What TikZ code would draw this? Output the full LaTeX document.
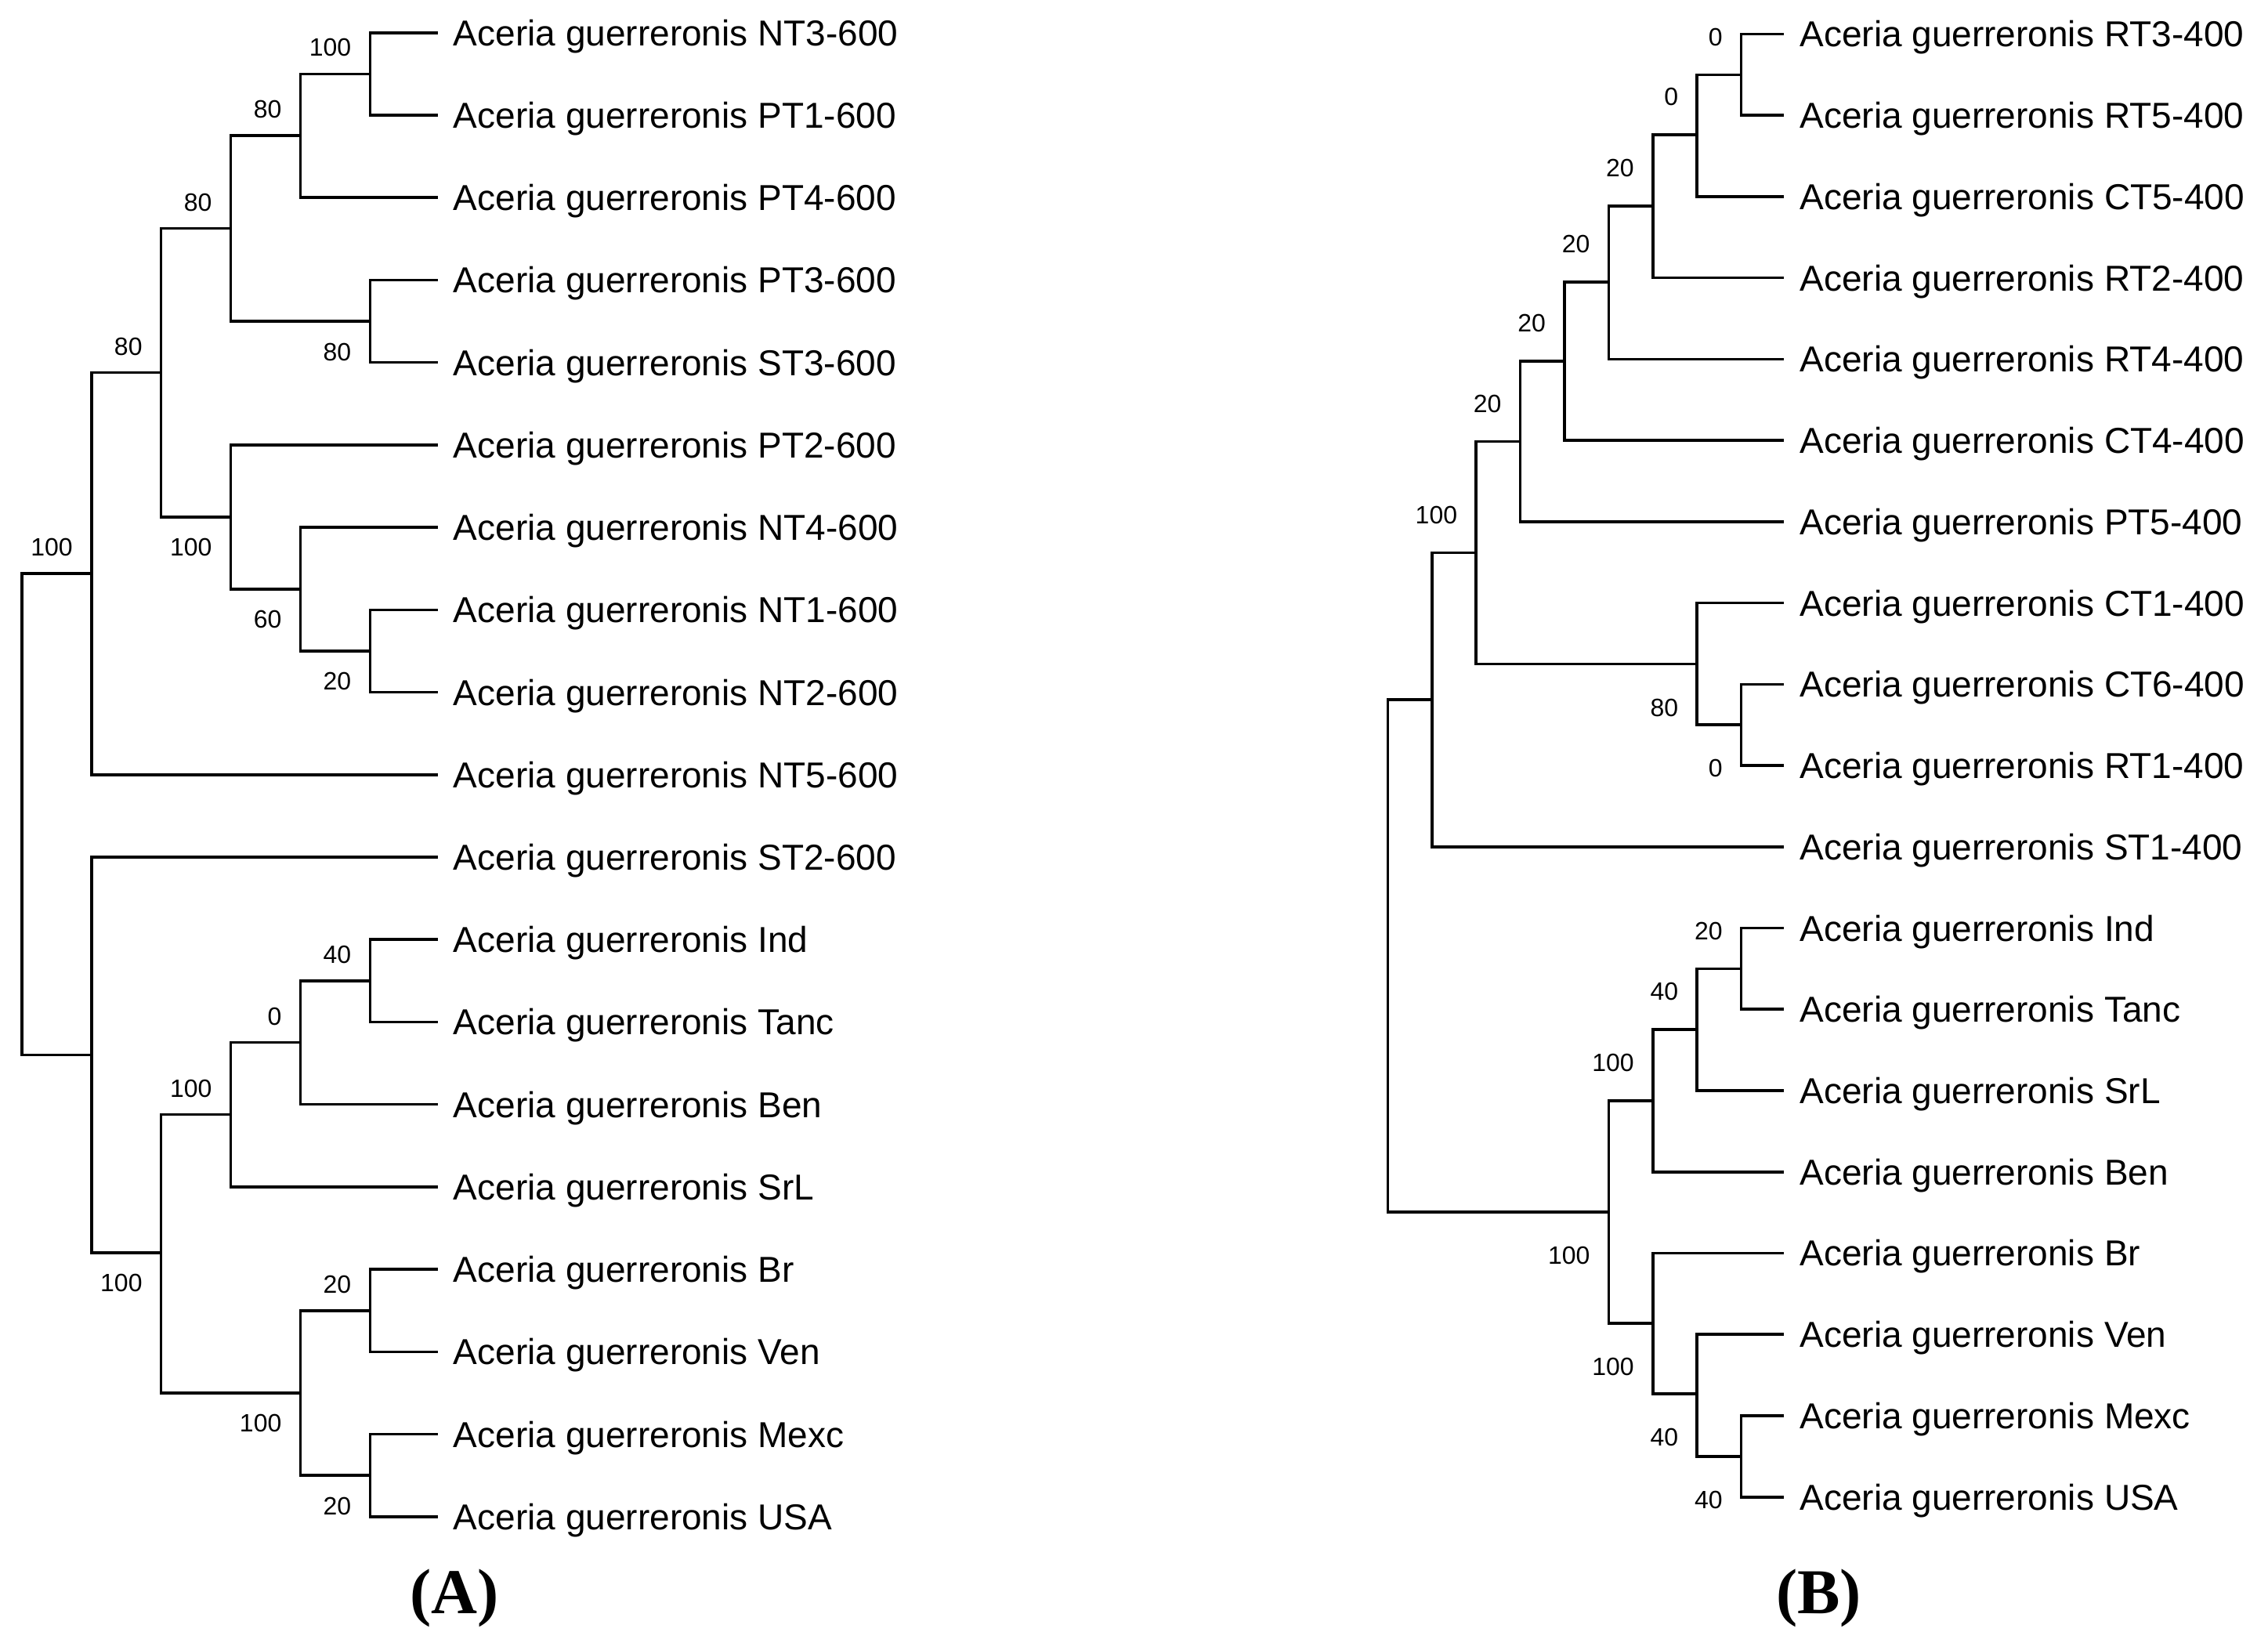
\documentclass[tikz,border=0pt]{standalone}
\usepackage{fontspec}
\setmainfont{Liberation Serif}
\setsansfont{Liberation Sans}
\begin{document}
\begin{tikzpicture}[
        x=0.01cm, y=-0.01cm,
        line width=0.55pt,
        font=\sffamily
    ]
    \tikzset{
        leafnode/.style = {anchor=west, inner xsep=0.1cm, inner ysep=0pt, text height=5.05pt, text depth=0pt, font={\sffamily\fontsize{7.05}{8}\selectfont}},
        bootnum/.style = {inner sep=0pt, anchor=east, xshift=-0.12cm, font={\sffamily\fontsize{4.9}{5}\selectfont}},
        labelstyleU/.style = {bootnum, yshift=0.18cm},
        labelstyleD/.style = {bootnum, yshift=-0.21cm},
        panelnode/.style = {inner sep=0pt, font={\rmfamily\bfseries\fontsize{12.5}{14}\selectfont}}
    }
    \useasboundingbox (0,0) rectangle (1560,1134.8);

    % (A) leaves
    \node[leafnode] (aNT3) at (301,22.5) {Aceria guerreronis NT3-600};
    \node[leafnode] (aPT1) at (301,79.2) {Aceria guerreronis PT1-600};
    \node[leafnode] (aPT4) at (301,135.9) {Aceria guerreronis PT4-600};
    \node[leafnode] (aPT3) at (301,192.6) {Aceria guerreronis PT3-600};
    \node[leafnode] (aST3) at (301,249.3) {Aceria guerreronis ST3-600};
    \node[leafnode] (aPT2) at (301,306.0) {Aceria guerreronis PT2-600};
    \node[leafnode] (aNT4) at (301,362.7) {Aceria guerreronis NT4-600};
    \node[leafnode] (aNT1) at (301,419.4) {Aceria guerreronis NT1-600};
    \node[leafnode] (aNT2) at (301,476.1) {Aceria guerreronis NT2-600};
    \node[leafnode] (aNT5) at (301,532.8) {Aceria guerreronis NT5-600};
    \node[leafnode] (aST2) at (301,589.5) {Aceria guerreronis ST2-600};
    \node[leafnode] (aInd) at (301,646.2) {Aceria guerreronis Ind};
    \node[leafnode] (aTanc) at (301,702.9) {Aceria guerreronis Tanc};
    \node[leafnode] (aBen) at (301,759.6) {Aceria guerreronis Ben};
    \node[leafnode] (aSrL) at (301,816.3) {Aceria guerreronis SrL};
    \node[leafnode] (aBr) at (301,873.0) {Aceria guerreronis Br};
    \node[leafnode] (aVen) at (301,929.7) {Aceria guerreronis Ven};
    \node[leafnode] (aMexc) at (301,986.4) {Aceria guerreronis Mexc};
    \node[leafnode] (aUSA) at (301,1043.1) {Aceria guerreronis USA};

    % (A) inner nodes
    \coordinate (a0) at (15,559.9);
    \coordinate (a1) at (62.9,394.4);
    \coordinate (a11) at (110.8,256.3);
    \coordinate (a111) at (158.7,157.1);
    \coordinate (a1111) at (206.6,93.3);
    \coordinate (a11111) at (254.5,50.85);
    \coordinate (a1112) at (254.5,220.95);
    \coordinate (a112) at (158.7,355.5);
    \coordinate (a1121) at (206.6,405.1);
    \coordinate (a11211) at (254.5,447.75);
    \coordinate (a2) at (62.9,725.5);
    \coordinate (a21) at (110.8,861.5);
    \coordinate (a211) at (158.7,766.6);
    \coordinate (a2111) at (206.6,716.9);
    \coordinate (a21111) at (254.5,674.55);
    \coordinate (a212) at (206.6,958.05);
    \coordinate (a2121) at (254.5,901.35);
    \coordinate (a2122) at (254.5,1014.75);

    \draw (a0) |- (a1) (a0) |- (a2);
    \draw (a1) |- (a11) (a1) |- (aNT5.west);
    \draw (a11) |- (a111) (a11) |- (a112);
    \draw (a111) |- (a1111) (a111) |- (a1112);
    \draw (a1111) |- (a11111) (a1111) |- (aPT4.west);
    \draw (a11111) |- (aNT3.west) (a11111) |- (aPT1.west);
    \draw (a1112) |- (aPT3.west) (a1112) |- (aST3.west);
    \draw (a112) |- (aPT2.west) (a112) |- (a1121);
    \draw (a1121) |- (aNT4.west) (a1121) |- (a11211);
    \draw (a11211) |- (aNT1.west) (a11211) |- (aNT2.west);
    \draw (a2) |- (aST2.west) (a2) |- (a21);
    \draw (a21) |- (a211) (a21) |- (a212);
    \draw (a211) |- (a2111) (a211) |- (aSrL.west);
    \draw (a2111) |- (a21111) (a2111) |- (aBen.west);
    \draw (a21111) |- (aInd.west) (a21111) |- (aTanc.west);
    \draw (a212) |- (a2121) (a212) |- (a2122);
    \draw (a2121) |- (aBr.west) (a2121) |- (aVen.west);
    \draw (a2122) |- (aMexc.west) (a2122) |- (aUSA.west);

    % (A) bootstrap values
    \node[labelstyleU] (la1) at (a1) {100};
    \node[labelstyleU] (la11) at (a11) {80};
    \node[labelstyleU] (la111) at (a111) {80};
    \node[labelstyleU] (la1111) at (a1111) {80};
    \node[labelstyleU] (la11111) at (a11111) {100};
    \node[labelstyleD] (la1112) at (a1112) {80};
    \node[labelstyleD] (la112) at (a112) {100};
    \node[labelstyleD] (la1121) at (a1121) {60};
    \node[labelstyleD] (la11211) at (a11211) {20};
    \node[labelstyleD] (la21) at (a21) {100};
    \node[labelstyleU] (la211) at (a211) {100};
    \node[labelstyleU] (la2111) at (a2111) {0};
    \node[labelstyleU] (la21111) at (a21111) {40};
    \node[labelstyleD] (la212) at (a212) {100};
    \node[labelstyleU] (la2121) at (a2121) {20};
    \node[labelstyleD] (la2122) at (a2122) {20};

    \node[panelnode] (capA) at (312.5,1099.3) {(A)};

    % (B)
    \begin{scope}[
            labelstyleU/.style = {bootnum, yshift=0.26cm},
            labelstyleD/.style = {bootnum, yshift=-0.30cm}
        ]
    \node[leafnode] (bRT3) at (1227,23.4) {Aceria guerreronis RT3-400};
    \node[leafnode] (bRT5) at (1227,79.3) {Aceria guerreronis RT5-400};
    \node[leafnode] (bCT5) at (1227,135.2) {Aceria guerreronis CT5-400};
    \node[leafnode] (bRT2) at (1227,191.1) {Aceria guerreronis RT2-400};
    \node[leafnode] (bRT4) at (1227,247.0) {Aceria guerreronis RT4-400};
    \node[leafnode] (bCT4) at (1227,302.9) {Aceria guerreronis CT4-400};
    \node[leafnode] (bPT5) at (1227,358.8) {Aceria guerreronis PT5-400};
    \node[leafnode] (bCT1) at (1227,414.7) {Aceria guerreronis CT1-400};
    \node[leafnode] (bCT6) at (1227,470.6) {Aceria guerreronis CT6-400};
    \node[leafnode] (bRT1) at (1227,526.5) {Aceria guerreronis RT1-400};
    \node[leafnode] (bST1) at (1227,582.4) {Aceria guerreronis ST1-400};
    \node[leafnode] (bInd) at (1227,638.3) {Aceria guerreronis Ind};
    \node[leafnode] (bTanc) at (1227,694.2) {Aceria guerreronis Tanc};
    \node[leafnode] (bSrL) at (1227,750.1) {Aceria guerreronis SrL};
    \node[leafnode] (bBen) at (1227,806.0) {Aceria guerreronis Ben};
    \node[leafnode] (bBr) at (1227,861.9) {Aceria guerreronis Br};
    \node[leafnode] (bVen) at (1227,917.8) {Aceria guerreronis Ven};
    \node[leafnode] (bMexc) at (1227,973.7) {Aceria guerreronis Mexc};
    \node[leafnode] (bUSA) at (1227,1029.6) {Aceria guerreronis USA};

    \coordinate (b0) at (954.5,657.4);
    \coordinate (b1) at (984.9,481.2);
    \coordinate (b11) at (1015.3,380.1);
    \coordinate (b111) at (1045.7,303.65);
    \coordinate (b1111) at (1076.1,248.5);
    \coordinate (b11111) at (1106.5,194.1);
    \coordinate (b111111) at (1136.9,141.7);
    \coordinate (b1111111) at (1167.3,92.8);
    \coordinate (b11111111) at (1197.7,51.35);
    \coordinate (b112) at (1167.3,456.6);
    \coordinate (b1121) at (1197.7,498.55);
    \coordinate (b2) at (1106.5,833.6);
    \coordinate (b21) at (1136.9,757.0);
    \coordinate (b211) at (1167.3,708.0);
    \coordinate (b2111) at (1197.7,666.25);
    \coordinate (b22) at (1136.9,910.2);
    \coordinate (b221) at (1167.3,958.5);
    \coordinate (b2211) at (1197.7,1001.65);

    \draw (b0) |- (b1) (b0) |- (b2);
    \draw (b1) |- (b11) (b1) |- (bST1.west);
    \draw (b11) |- (b111) (b11) |- (b112);
    \draw (b111) |- (b1111) (b111) |- (bPT5.west);
    \draw (b1111) |- (b11111) (b1111) |- (bCT4.west);
    \draw (b11111) |- (b111111) (b11111) |- (bRT4.west);
    \draw (b111111) |- (b1111111) (b111111) |- (bRT2.west);
    \draw (b1111111) |- (b11111111) (b1111111) |- (bCT5.west);
    \draw (b11111111) |- (bRT3.west) (b11111111) |- (bRT5.west);
    \draw (b112) |- (bCT1.west) (b112) |- (b1121);
    \draw (b1121) |- (bCT6.west) (b1121) |- (bRT1.west);
    \draw (b2) |- (b21) (b2) |- (b22);
    \draw (b21) |- (b211) (b21) |- (bBen.west);
    \draw (b211) |- (b2111) (b211) |- (bSrL.west);
    \draw (b2111) |- (bInd.west) (b2111) |- (bTanc.west);
    \draw (b22) |- (bBr.west) (b22) |- (b221);
    \draw (b221) |- (bVen.west) (b221) |- (b2211);
    \draw (b2211) |- (bMexc.west) (b2211) |- (bUSA.west);

    \node[labelstyleU] (lb11) at (b11) {100};
    \node[labelstyleU] (lb111) at (b111) {20};
    \node[labelstyleU] (lb1111) at (b1111) {20};
    \node[labelstyleU] (lb11111) at (b11111) {20};
    \node[labelstyleU] (lb111111) at (b111111) {20};
    \node[labelstyleU] (lb1111111) at (b1111111) {0};
    \node[labelstyleU] (lb11111111) at (b11111111) {0};
    \node[labelstyleD] (lb112) at (b112) {80};
    \node[labelstyleD] (lb1121) at (b1121) {0};
    \node[labelstyleD] (lb2) at (b2) {100};
    \node[labelstyleU] (lb21) at (b21) {100};
    \node[labelstyleU] (lb211) at (b211) {40};
    \node[labelstyleU] (lb2111) at (b2111) {20};
    \node[labelstyleD] (lb22) at (b22) {100};
    \node[labelstyleD] (lb221) at (b221) {40};
    \node[labelstyleD] (lb2211) at (b2211) {40};
    \end{scope}

    \node[panelnode] (capB) at (1251,1099.3) {(B)};
\end{tikzpicture}
\end{document}
